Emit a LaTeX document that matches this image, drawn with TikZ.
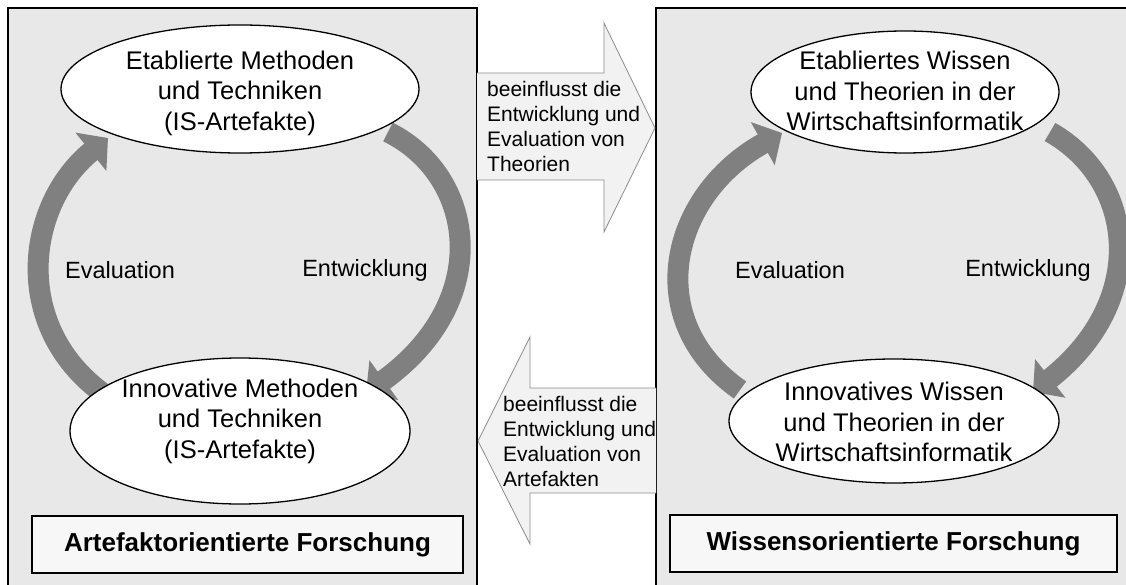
\documentclass[tikz,border=0pt]{standalone}
\usepackage{fontspec}
\setmainfont{Liberation Sans}
\usetikzlibrary{arrows.meta,shapes.geometric}
\definecolor{panelgray}{HTML}{E8E8E8}
\definecolor{bandgray}{HTML}{808080}
\definecolor{arrowfill}{HTML}{F2F2F2}
\definecolor{arrowline}{HTML}{8C8C8C}
\definecolor{boxfill}{HTML}{F7F7F7}
\begin{document}
\begin{tikzpicture}[x=1pt,y=-1pt,
  panel/.style={fill=panelgray, draw=black, line width=2pt},
  ell/.style={ellipse, draw=black, fill=white, line width=1.3pt, inner sep=0pt},
  etext/.style={align=center, font=\fontsize{25.5}{30.5}\selectfont, inner sep=0pt},
  lbl/.style={font=\fontsize{23.5}{28}\selectfont, inner sep=0pt},
  band/.style={draw=bandgray, line width=21pt, -{Triangle[width=48pt,length=22pt]}},
  flow/.style={fill=arrowfill, draw=arrowline, line width=0.8pt},
  ftext/.style={align=left, font=\fontsize{21}{25}\selectfont, inner sep=0pt, anchor=north west},
  titlebox/.style={draw=black, fill=boxfill, line width=1.5pt, font=\bfseries\fontsize{26}{31}\selectfont, inner sep=0pt}]
\useasboundingbox (0,0) rectangle (1126,585);
\clip (0,0) rectangle (1126,585);
\fill[white] (0,0) rectangle (1126,585);

% panels
\draw[panel] (8,8) rectangle (477,600);
\draw[panel] (656,8) rectangle (1140,600);

% broad flow arrows
\draw[flow] (477,73) -- (604,73) -- (604,23) -- (655,128) -- (604,232) -- (604,180) -- (477,180);
\node[ftext] (topflow) at (487,81) {beeinflusst die\\Entwicklung und\\Evaluation von\\Theorien};
\draw[flow] (656,388) -- (530,388) -- (530,337) -- (478,441) -- (530,544) -- (530,493) -- (656,493);
\node[ftext] (botflow) at (503,396) {beeinflusst die\\Entwicklung und\\Evaluation von\\Artefakten};

% coordinates for band arrows
\coordinate (eLs) at (388,132);
\coordinate (eLe) at (366,393);
\coordinate (vLs) at (108,397);
\coordinate (vLe) at (108,138);
\coordinate (eRs) at (1050,132);
\coordinate (eRe) at (1033,392);
\coordinate (vRs) at (740,390);
\coordinate (vRe) at (782,133);

% band arrows
\draw[band] (eLs) .. controls (475,175) and (495,300) .. (eLe);
\draw[band] (vLs) .. controls (10,330) and (25,205) .. (vLe);
\draw[band] (eRs) .. controls (1135,180) and (1150,300) .. (eRe);
\draw[band] (vRs) .. controls (640,320) and (670,195) .. (vRe);

% ellipses
\node[ell, minimum width=358pt, minimum height=128pt] (etL) at (240,89) {};
\node[etext] (etLt) at (240,93) {Etablierte Methoden\\und Techniken\\(IS-Artefakte)};
\node[ell, minimum width=340pt, minimum height=146pt] (inL) at (240,431) {};
\node[etext] (inLt) at (240,421) {Innovative Methoden\\und Techniken\\(IS-Artefakte)};
\node[ell, minimum width=308pt, minimum height=122pt] (etR) at (905,92) {};
\node[etext] (etRt) at (905,91) {Etabliertes Wissen\\und Theorien in der\\Wirtschaftsinformatik};
\node[ell, minimum width=330pt, minimum height=124pt] (inR) at (894,421) {};
\node[etext] (inRt) at (894,422) {Innovatives Wissen\\und Theorien in der\\Wirtschaftsinformatik};

% labels
\node[lbl] (evL) at (120,270) {Evaluation};
\node[lbl] (enL) at (365,270) {Entwicklung};
\node[lbl] (evR) at (790,270) {Evaluation};
\node[lbl] (enR) at (1028,270) {Entwicklung};

% title boxes
\node[titlebox, minimum width=431pt, minimum height=57pt] (tL) at (247.5,544.5) {Artefaktorientierte Forschung};
\node[titlebox, minimum width=447pt, minimum height=57pt] (tR) at (893.5,543.5) {Wissensorientierte Forschung};
\end{tikzpicture}
\end{document}
